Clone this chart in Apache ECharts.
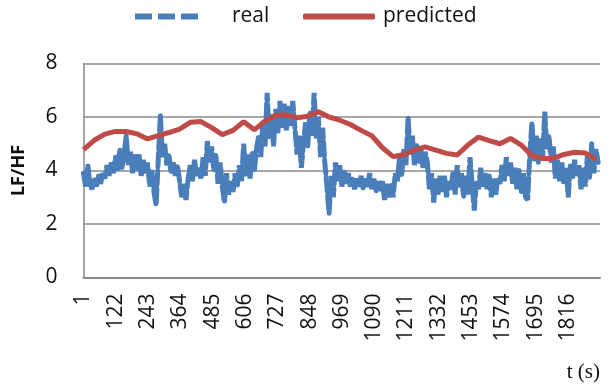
<!DOCTYPE html>
<html>
<head>
<meta charset="utf-8">
<script src="https://cdn.jsdelivr.net/npm/echarts@6/dist/echarts.min.js"></script>
<style>
  html, body { margin: 0; padding: 0; background: #fff; }
  #chart { width: 610px; height: 389px; }
</style>
</head>
<body>
<div id="chart"></div>
<script>
// samples (seconds) on the x axis
const sampleCount = 1936;
const categories = Array.from({ length: sampleCount }, (_, i) => String(i + 1));

// measured LF/HF, one reading every 8 s
const realStep = 8;
const realValues = [
  3.9, 3.4, 4.2, 3.5, 3.3, 3.7, 3.4, 3.8, 3.5, 3.9,
  3.7, 4.2, 3.8, 4.3, 3.9, 4.5, 4.0, 4.8, 4.1, 4.6,
  5.3, 4.2, 4.7, 3.9, 4.6, 4.0, 4.6, 3.8, 4.4, 3.9,
  4.3, 3.4, 4.0, 3.2, 2.7, 4.4, 6.1, 4.5, 5.0, 4.2,
  4.6, 3.9, 4.3, 3.8, 4.2, 3.6, 3.0, 3.5, 2.9, 3.7,
  4.2, 3.6, 4.4, 3.8, 4.1, 3.7, 4.5, 3.8, 5.1, 4.3,
  4.9, 4.0, 4.6, 3.5, 4.3, 3.4, 2.8, 3.9, 3.1, 3.6,
  3.2, 3.9, 3.4, 4.2, 3.6, 5.0, 3.8, 4.6, 3.7, 4.7,
  4.0, 4.8, 5.3, 4.5,
  5.8, 4.9, 6.9, 5.2, 6.1, 4.9, 6.3, 5.4, 6.6, 5.6,
  6.5, 5.5, 6.4, 5.7, 6.6, 5.6, 4.6, 5.3, 4.1, 5.0,
  5.8, 4.9, 6.2, 5.3, 6.9, 5.2, 6.0, 4.5, 5.6, 4.3,
  3.4, 2.4, 3.8, 3.0, 4.3, 3.6, 4.2, 3.4, 4.0, 3.5,
  3.9, 3.4, 3.7, 3.3, 3.7, 3.4, 3.8, 3.3, 3.7, 3.4,
  3.9, 3.3, 3.7, 3.2, 3.6, 3.3, 3.6, 2.9, 3.5, 3.0,
  3.5, 3.0, 3.9, 3.6, 4.5, 3.8, 4.8, 4.2, 6.0, 4.6,
  5.3, 4.2, 5.0, 4.3, 4.8, 4.1, 4.7, 4.3, 3.3,
  3.9, 2.8, 3.7, 3.1, 3.8, 3.2, 3.8, 3.0, 3.6, 3.3,
  3.9, 3.1, 4.2, 3.4, 3.9, 3.0, 3.8, 3.1, 4.5, 3.5,
  2.5, 3.6, 3.3, 4.1, 3.4, 3.9, 3.3, 3.8, 3.0, 3.7,
  3.1, 3.7, 3.5, 4.2, 3.6, 4.5, 3.8, 4.3, 3.5, 4.1,
  3.3, 4.0, 3.2, 3.9, 3.0, 2.9, 4.6, 5.8, 4.4, 5.3,
  4.3, 5.2, 4.4, 6.2, 4.8, 5.3, 4.3, 4.9, 3.7, 4.4,
  3.6, 4.3, 3.5, 4.1, 3.0, 4.2, 3.7, 4.4, 3.8, 4.2,
  3.3, 4.1, 3.4, 4.6, 3.7, 5.0, 3.9, 4.8, 4.3
];

// model output, one value every 40 s
const predStep = 40;
const predValues = [
  4.78, 5.13, 5.36, 5.46, 5.46, 5.37, 5.18, 5.3, 5.42, 5.55,
  5.8, 5.83, 5.6, 5.34, 5.5, 5.82, 5.52, 5.85, 6.06, 6.08,
  5.97, 6.03, 6.2, 6.0, 5.88, 5.72, 5.5, 5.3, 4.85, 4.52,
  4.6, 4.76, 4.88, 4.76, 4.64, 4.58, 4.95, 5.25, 5.12, 5.0,
  5.2, 4.95, 4.55, 4.45, 4.45, 4.6, 4.68, 4.65, 4.42
];

const yTicks = [0, 2, 4, 6, 8];

const font = "'Open Sans', sans-serif";
const blue = "#4a7ebb";
const red = "#be4b48";
const gridGray = "#8a8a8a";

const chart = echarts.init(document.getElementById("chart"));

chart.setOption({
  animation: false,
  legend: [
    {
      data: ["real"],
      left: 130,
      top: 1,
      icon: "path://M0,0H17V6H0Z M23,0H40V6H23Z M46,0H63V6H46Z",
      itemWidth: 63,
      itemHeight: 6,
      textStyle: { fontFamily: font, fontSize: 21, color: "#111", padding: [0, 0, 0, 29] },
    },
    {
      data: ["predicted"],
      left: 298,
      top: 1,
      icon: "roundRect",
      itemWidth: 72,
      itemHeight: 6,
      textStyle: { fontFamily: font, fontSize: 21, color: "#111", padding: [0, 0, 0, 3] },
    },
  ],
  grid: {
    left: 83.5,
    right: 10,
    top: 63.5,
    bottom: 111.5,
  },
  xAxis: {
    type: "category",
    data: categories,
    boundaryGap: false,
    name: "t (s)",
    nameLocation: "end",
    nameGap: 0,
    nameTextStyle: {
      fontFamily: "'Liberation Serif', serif",
      fontSize: 21,
      color: "#111",
      align: "right",
      verticalAlign: "top",
      padding: [84, 0, 0, 0],
    },
    axisLine: { lineStyle: { color: gridGray, width: 2 } },
    axisTick: { show: false },
    axisLabel: {
      interval: 120,
      rotate: 90,
      margin: 16,
      fontFamily: font,
      fontSize: 21,
      color: "#111",
    },
    splitLine: { show: false },
  },
  yAxis: {
    type: "value",
    min: yTicks[0],
    max: yTicks[yTicks.length - 1],
    interval: yTicks[1] - yTicks[0],
    name: "LF/HF",
    nameLocation: "middle",
    nameGap: 56,
    nameRotate: 90,
    nameTextStyle: { fontFamily: font, fontSize: 18, fontWeight: "bold", color: "#111" },
    axisLine: { show: true, lineStyle: { color: gridGray, width: 1.5 } },
    axisTick: { show: false },
    axisLabel: { margin: 26, fontFamily: font, fontSize: 21, color: "#111" },
    splitLine: { lineStyle: { color: gridGray, width: 1.5 } },
  },
  series: [
    {
      name: "real",
      type: "line",
      data: realValues.map((v, i) => [categories[i * realStep], v]),
      showSymbol: false,
      symbol: "none",
      color: blue,
      lineStyle: { color: blue, width: 5, type: [14, 4], cap: "round" },
      z: 2,
    },
    {
      name: "predicted",
      type: "line",
      data: predValues.map((v, i) => [categories[i * predStep], v]),
      showSymbol: false,
      symbol: "none",
      color: red,
      lineStyle: { color: red, width: 5 },
      z: 3,
    },
  ],
});
</script>
</body>
</html>
